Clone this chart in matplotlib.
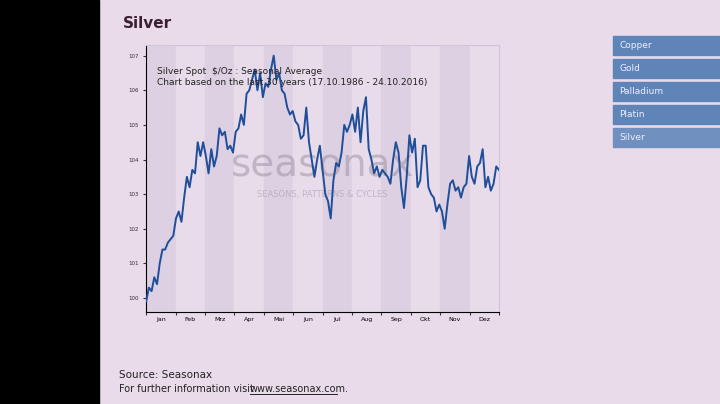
import matplotlib
matplotlib.use("Agg")
import matplotlib.pyplot as plt
import numpy as np
from matplotlib.patches import Rectangle
from matplotlib.lines import Line2D

months = ["Jan","Feb","Mrz","Apr","Mai","Jun","Jul","Aug","Sep","Okt","Nov","Dez"]
values = [99.9,100.3,100.2,100.6,100.4,101.0,101.4,101.4,101.6,101.7,101.8,102.3,102.5,102.2,102.9,103.5,103.2,103.7,103.6,
104.5,104.1,104.5,104.1,103.6,104.3,103.8,104.1,104.9,104.7,104.8,104.3,104.4,104.2,
104.8,104.9,105.3,105.0,105.9,106.0,106.3,106.6,106.0,106.5,105.8,106.2,106.1,
106.6,107.0,106.3,106.5,106.0,105.9,105.5,105.3,105.4,105.1,105.0,104.6,104.7,105.5,104.5,
104.0,103.5,104.0,104.4,103.7,103.0,102.8,102.3,103.4,103.9,103.8,104.2,105.0,104.8,105.0,105.3,104.8,105.5,
104.5,105.4,105.8,104.3,104.0,103.6,103.8,103.5,103.7,103.6,103.5,103.3,104.0,104.5,104.2,103.2,102.6,103.5,104.7,104.2,104.6,103.2,103.4,104.4,104.4,103.2,103.0,102.9,102.5,102.7,102.5,102.0,102.7,103.3,103.4,103.1,103.2,102.9,103.2,103.3,104.1,103.5,103.3,103.8,103.9,104.3,103.2,103.5,103.1,103.3,103.8,103.7]
yticks = [100,101,102,103,104,105,106,107]

fig = plt.figure(figsize=(7.2,4.04), dpi=100)
fig.patch.set_facecolor("#e9dbe9")
fig.add_artist(Rectangle((0,0),0.138,1,transform=fig.transFigure,color="black"))
fig.text(0.171,0.96,"Silver",fontsize=11,fontweight="bold",color="#3a2030",va="top")

ax = fig.add_axes([0.203,0.228,0.49,0.66])
ax.set_facecolor("#e6dae8")
x = np.linspace(0,12,len(values))
for i in range(12):
    ax.axvspan(i,i+1,color="#dcd0e2" if i%2==0 else "#e8dcea",zorder=0)
ax.plot(x,values,color="#1f4e9a",lw=1.4,zorder=3)
ax.set_xlim(0,12); ax.set_ylim(99.6,107.3)
ax.set_yticks(yticks); ax.set_yticklabels([str(v) for v in yticks],fontsize=4)
ax.set_xticks(np.arange(0,13)); ax.set_xticklabels([])
ax.set_xticks(np.arange(12)+0.5,minor=True)
ax.set_xticklabels(months,minor=True,fontsize=4.5)
ax.tick_params(axis="x",which="minor",length=0)
ax.tick_params(colors="#333",length=2)
for s in ["top","right"]: ax.spines[s].set_color("#d0c4d8")
ax.text(0.03,0.92,"Silver Spot  $/Oz : Seasonal Average\nChart based on the last 30 years (17.10.1986 - 24.10.2016)",
        transform=ax.transAxes,fontsize=6.5,va="top",color="#222",zorder=4,linespacing=1.4)
ax.text(0.5,0.55,"seasonax",transform=ax.transAxes,fontsize=28,color="#9a8fa0",alpha=0.5,ha="center",va="center",zorder=2)
ax.text(0.5,0.43,"SEASONS, PATTERNS & CYCLES",transform=ax.transAxes,fontsize=6,color="#a89eb0",alpha=0.6,ha="center",zorder=2)

for j,name in enumerate(["Copper","Gold","Palladium","Platin","Silver"]):
    y = 0.865 - j*0.057
    fig.add_artist(Rectangle((0.852,y),0.15,0.045,transform=fig.transFigure,color="#5f85b8" if name!="Silver" else "#7090c0"))
    fig.text(0.86,y+0.022,name,fontsize=6.5,color="#eef",va="center")

fig.text(0.165,0.065,"Source: Seasonax",fontsize=7.5,color="#222")
fig.text(0.165,0.03,"For further information visit",fontsize=7,color="#222")
fig.text(0.347,0.03,"www.seasonax.com.",fontsize=7,color="#222")
fig.add_artist(Line2D([0.347,0.468],[0.025,0.025],transform=fig.transFigure,color="#222",lw=0.7))
fig.savefig("out.png",dpi=100,facecolor=fig.get_facecolor())
